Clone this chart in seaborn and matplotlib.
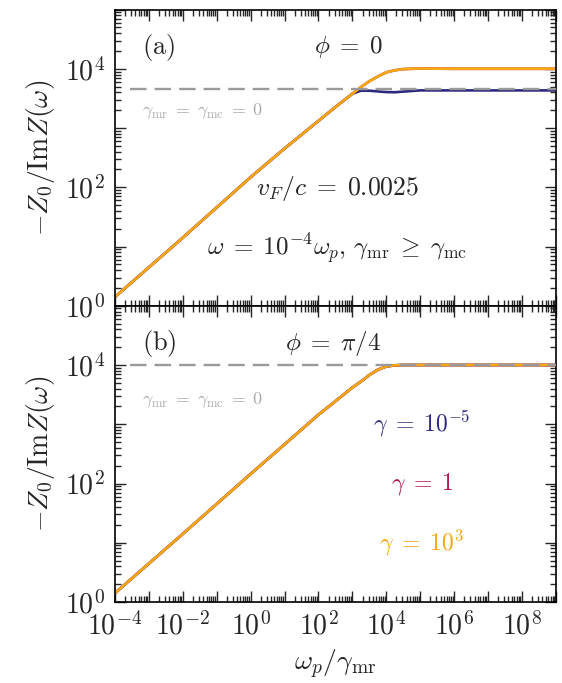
import numpy as np
import pandas as pd
import seaborn as sns
import matplotlib.pyplot as plt
from matplotlib.ticker import LogLocator, FuncFormatter, NullFormatter

# values (x = omega_p / gamma_mr)
x_pts = [1e-4, 1e-2, 1e0, 1e1, 1e2, 316, 1e3, 1780, 3160, 5620,
         1e4, 17800, 31600, 1e5, 1e6, 1e7, 1e8, 1e9]

# panel (a), phi = 0
y_a_small = [1.41, 14.1, 148, 451, 1320, 2260, 3800, 4270, 4270, 4150,
             4050, 4020, 4120, 4320, 4320, 4320, 4320, 4320]
y_a_mid = [1.41, 14.1, 148, 451, 1320, 2260, 3800, 4900, 6170, 7410,
           8710, 9440, 9890, 10100, 10000, 10000, 10000, 10000]
y_a_large = [1.41, 14.1, 148, 451, 1320, 2260, 3800, 4900, 6170, 7410,
             8710, 9440, 9890, 10100, 10000, 10000, 10000, 10000]

# panel (b), phi = pi/4 (all three coincide)
y_b_small = [1.41, 14.1, 145, 457, 1450, 2450, 4170, 5250, 6760, 8320,
             9440, 9890, 10000, 10000, 10000, 10000, 10000, 10000]
y_b_mid = y_b_small
y_b_large = y_b_small

# dashed gamma_mr = gamma_mc = 0 reference levels
ref_level_a = 4520
ref_level_b = 10000
ref_x = [2.8e-4, 1e9]

gammas = [r"$\gamma\;=\;10^{-5}$", r"$\gamma\;=\;1$", r"$\gamma\;=\;10^{3}$"]
colors = ["#2d2a7e", "#b3174d", "#f5a80f"]

sns.set_style("ticks")
plt.rcParams["mathtext.fontset"] = "cm"
plt.rcParams["font.family"] = ["DejaVu Serif"]

fig, axes = plt.subplots(2, 1, figsize=(5.62, 6.83), dpi=100, sharex=True)
fig.subplots_adjust(left=0.2046, right=0.989, top=0.986, bottom=0.1186, hspace=0)


def even_decade(v, pos):
    e = int(round(np.log10(v)))
    return r"$10^{%d}$" % e if e % 2 == 0 else ""


panels = [
    (axes[0], [y_a_small, y_a_mid, y_a_large], ref_level_a, "(a)", r"$\phi\;=\;0$", 0.53),
    (axes[1], [y_b_small, y_b_mid, y_b_large], ref_level_b, "(b)", r"$\phi\;=\;\pi/4$", 0.495),
]

for ax, ys, ref, tag, phi, phx in panels:
    ax.set_xscale("log")
    ax.set_yscale("log")
    for y, c in zip(ys, colors):
        df = pd.DataFrame({"x": x_pts, "y": y})
        sns.lineplot(data=df, x="x", y="y", color=c, lw=1.9, ax=ax)
    ax.hlines(ref, ref_x[0], ref_x[1], colors="#9a9a9a", lw=1.7,
              linestyles=(0, (7, 3.4)), zorder=5)
    ax.text(0.062, 0.872, r"$\mathrm{%s}$" % tag, transform=ax.transAxes,
            fontsize=19, va="center", ha="left")
    ax.text(phx, 0.872, phi, transform=ax.transAxes,
            fontsize=18, va="center", ha="center")
    ax.text(0.062, 0.657 if tag == "(a)" else 0.68,
            r"$\gamma_{\rm mr}\;=\;\gamma_{\rm mc}\;=\;0$", transform=ax.transAxes,
            fontsize=13, color="#aaaaaa", va="center", ha="left")

    ax.set_xlim(1e-4, 1e9)
    ax.set_ylim(1, 1e5)
    ax.set_xlabel("")
    ax.set_ylabel(r"$-Z_0/\mathrm{Im}Z(\omega)$", fontsize=20, labelpad=6)
    ax.xaxis.set_major_locator(LogLocator(base=10, numticks=30))
    ax.xaxis.set_minor_locator(LogLocator(base=10, subs=np.arange(2, 10), numticks=30))
    ax.yaxis.set_major_locator(LogLocator(base=10, numticks=30))
    ax.yaxis.set_minor_locator(LogLocator(base=10, subs=np.arange(2, 10), numticks=30))
    ax.xaxis.set_major_formatter(FuncFormatter(even_decade))
    ax.yaxis.set_major_formatter(FuncFormatter(even_decade))
    ax.xaxis.set_minor_formatter(NullFormatter())
    ax.yaxis.set_minor_formatter(NullFormatter())
    ax.tick_params(which="both", direction="in", top=True, right=True,
                   labelsize=20, width=1.0)
    ax.tick_params(which="major", length=8, pad=7)
    ax.tick_params(which="minor", length=4)
    for s in ax.spines.values():
        s.set_linewidth(1.2)
        s.set_color("black")

axes[0].tick_params(labelbottom=False)

axes[0].text(0.505, 0.397, r"$v_F/c\;=\;0.0025$", transform=axes[0].transAxes,
             fontsize=18.5, ha="center", va="center")
axes[0].text(0.503, 0.192,
             r"$\omega\;=\;10^{-4}\omega_p,\, \gamma_{\rm mr}\;\geq\;\gamma_{\rm mc}$",
             transform=axes[0].transAxes, fontsize=18, ha="center", va="center")

for lab, c, yy in zip(gammas, colors, [0.603, 0.40, 0.198]):
    axes[1].text(0.696, yy, lab, transform=axes[1].transAxes, color=c,
                 fontsize=17, ha="center", va="center")

axes[1].set_xlabel(r"$\omega_p/\gamma_{\rm mr}$", fontsize=20, labelpad=5)

fig.savefig("out.png", dpi=100)
